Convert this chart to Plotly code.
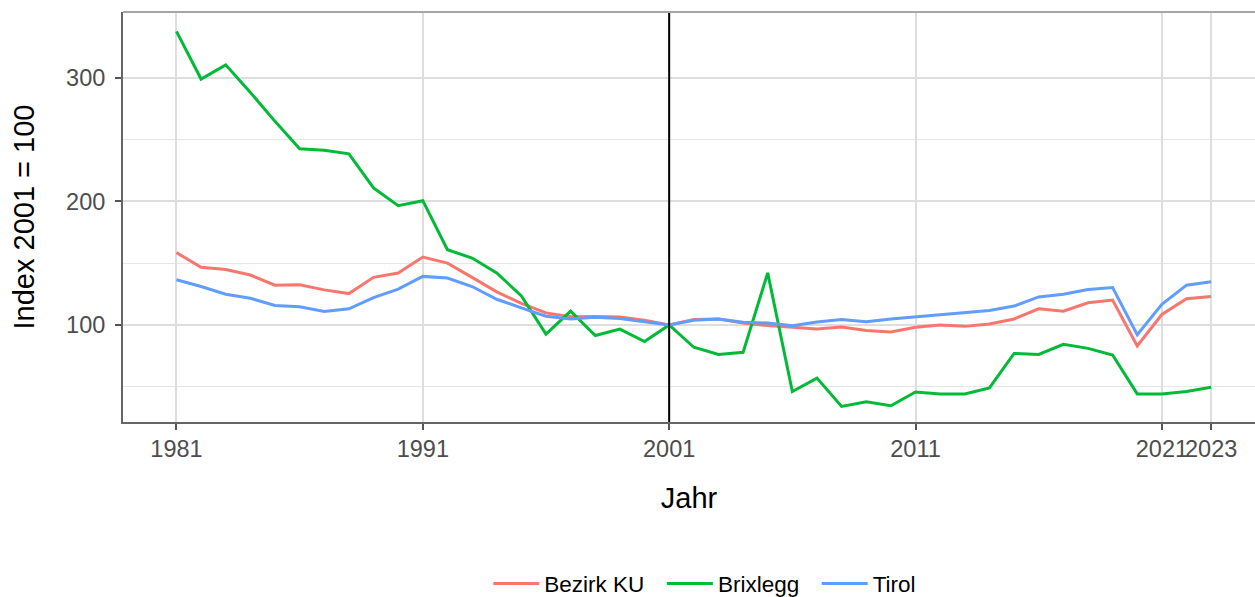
import plotly.graph_objects as go

years = list(range(1981, 2024))

bezirk_ku = [158.5, 146.7, 144.8, 140.4, 132.2, 132.5, 128.4, 125.4, 138.5, 142.0,
             154.9, 150.0, 138.5, 126.8, 117.5, 109.8, 106.6, 106.8, 106.4, 103.8,
             100.0, 104.4, 104.9, 101.6, 99.5, 98.4, 96.7, 98.4, 95.6, 94.3,
             98.1, 100.0, 98.9, 100.8, 104.9, 113.1, 111.2, 118.0, 120.2, 83.1,
             108.5, 121.3, 123.0]

brixlegg = [337.3, 298.8, 310.3, 288.0, 264.6, 242.5, 241.2, 238.4, 210.8, 196.5,
            200.5, 160.9, 154.1, 142.1, 123.5, 92.6, 111.2, 91.5, 96.7, 86.6,
            100.0, 82.0, 76.2, 77.9, 142.1, 46.2, 57.1, 34.2, 38.0, 34.7,
            45.9, 44.3, 44.3, 49.2, 77.0, 76.2, 84.4, 81.1, 75.7, 44.3,
            44.3, 46.2, 49.7]

tirol = [136.6, 131.1, 124.9, 121.6, 115.8, 114.8, 110.9, 113.1, 122.1, 129.0,
         139.3, 138.0, 131.1, 120.8, 113.9, 107.1, 104.9, 106.3, 105.2, 102.7,
         100.0, 103.8, 104.9, 102.2, 101.6, 99.5, 102.5, 104.4, 102.7, 104.9,
         106.6, 107.7, 109.8, 111.7, 115.3, 122.7, 124.9, 128.7, 130.3, 92.1,
         116.7, 132.2, 135.0]

series_names = ["Bezirk KU", "Brixlegg", "Tirol"]
series_colors = ["#F8766D", "#00BA38", "#619CFF"]

x_ticks = [1981, 1991, 2001, 2011, 2021, 2023]
y_ticks = [100, 200, 300]
y_minor = [50, 150, 250]
base_year = 2001

fig = go.Figure()
n = len(series_names)
for i, (name, vals, col) in enumerate(zip(series_names, [bezirk_ku, brixlegg, tirol], series_colors)):
    label = name + ("\u00a0\u00a0" if i < n - 1 else "")
    fig.add_trace(go.Scatter(x=years, y=vals, mode="lines", name=label,
                             line=dict(color=col, width=3)))

fig.add_vline(x=base_year, line=dict(color="black", width=2))

# top panel border
fig.add_shape(type="line", xref="paper", yref="paper", x0=0, x1=1, y0=1, y1=1,
              line=dict(color="#A6A6A6", width=2))

axis_font = dict(family="Liberation Sans, Arial, sans-serif", size=23.5, color="#4D4D4D")
title_font = dict(family="Liberation Sans, Arial, sans-serif", size=29, color="black")

fig.update_layout(
    width=1255, height=597,
    margin=dict(l=123, r=0, t=12, b=175, autoexpand=False),
    plot_bgcolor="white", paper_bgcolor="white",
    font=dict(family="Liberation Sans, Arial, sans-serif"),
    showlegend=True,
    legend=dict(orientation="h", x=0.514, xanchor="center", y=-0.395, yanchor="middle",
                font=dict(family="Liberation Sans, Arial, sans-serif", size=22.5, color="black"),
                itemwidth=46, traceorder="normal"),
    xaxis=dict(range=[1978.83, 2024.78], tickmode="array", tickvals=x_ticks,
               ticktext=[str(v) for v in x_ticks], tickangle=0, automargin=False,
               showgrid=True, gridcolor="#DEDEDE", gridwidth=1.5,
               zeroline=False, showline=True, linecolor="#666666", linewidth=2,
               ticks="outside", ticklen=6, tickwidth=1.5, tickcolor="#555555",
               tickfont=axis_font, ticklabelstandoff=-1,
               title=dict(text="Jahr", font=title_font, standoff=26)),
    yaxis=dict(range=[21.6, 353.0], tickmode="array", tickvals=y_ticks, automargin=False,
               showgrid=True, gridcolor="#DEDEDE", gridwidth=1.5,
               minor=dict(tickvals=y_minor, showgrid=True, gridcolor="#E6E6E6",
                          gridwidth=1, ticks=""),
               zeroline=False, showline=True, linecolor="#666666", linewidth=2,
               ticks="outside", ticklen=6, tickwidth=1.5, tickcolor="#555555",
               tickfont=axis_font, ticklabelstandoff=5,
               title=dict(text="Index 2001 = 100", font=title_font, standoff=23)),
)

fig.write_html("out.html", config={"displayModeBar": False},
               post_script="document.body.style.margin='0';document.body.style.overflow='hidden';")
